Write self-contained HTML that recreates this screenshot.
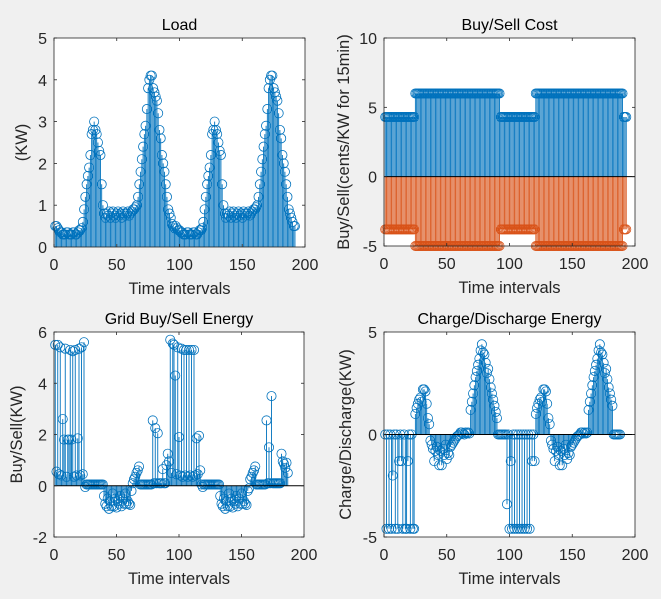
<!DOCTYPE html>
<html><head><meta charset="utf-8">
<style>
html,body{margin:0;padding:0;background:#f0f0f0;}
svg{display:block;font-family:"Liberation Sans",Arial,sans-serif;}
</style></head>
<body>
<svg id="fig" width="661" height="599" viewBox="0 0 661 599"></svg>
<script>
const loadDay = [0.5,0.5,0.45,0.4,0.35,0.35,0.3,0.3,0.3,0.35,0.35,0.3,0.3,0.3,0.35,0.35,0.3,0.3,0.35,0.4,0.4,0.45,0.6,0.9,1.2,1.5,1.7,1.9,2.2,2.7,2.8,3.0,2.8,2.7,2.5,2.3,2.2,1.5,1.0,0.8,0.7,0.8,0.75,0.85,0.7,0.8,0.85,0.75,0.7,0.8,0.85,0.75,0.8,0.7,0.85,0.8,0.75,0.8,0.85,0.75,0.8,0.85,0.9,0.9,0.95,1.0,1.2,1.5,1.8,2.1,2.4,2.7,2.9,3.3,3.8,4.0,4.1,4.1,3.8,3.7,3.6,3.5,3.2,2.8,2.6,2.2,2.0,1.8,1.5,1.2,0.9,0.8,0.7,0.55,0.5,0.45];
const loadVals = loadDay.concat([0.5,0.45,0.4,0.4,0.35,0.35,0.3,0.3,0.3,0.35,0.35,0.3,0.3,0.3,0.35,0.35,0.3,0.3,0.35,0.4,0.4,0.45,0.6,0.9,1.2,1.5,1.7,1.9,2.2,2.7,2.8,3.0,2.8,2.7,2.5,2.3,2.2,1.5,1.0,0.8,0.7,0.8,0.75,0.85,0.7,0.8,0.85,0.75,0.7,0.8,0.85,0.75,0.8,0.7,0.85,0.8,0.75,0.8,0.85,0.75,0.8,0.85,0.9,0.9,0.95,1.0,1.2,1.5,1.8,2.1,2.4,2.7,2.9,3.3,3.8,4.0,4.1,4.1,3.8,3.7,3.6,3.5,3.2,2.8,2.6,2.2,2.0,1.8,1.5,1.2,0.9,0.8,0.7,0.6,0.5,0.5]);
const buyVals = [4.3,4.3,4.3,4.3,4.3,4.3,4.3,4.3,4.3,4.3,4.3,4.3,4.3,4.3,4.3,4.3,4.3,4.3,4.3,4.3,4.3,4.3,4.3,4.3,6,6,6,6,6,6,6,6,6,6,6,6,6,6,6,6,6,6,6,6,6,6,6,6,6,6,6,6,6,6,6,6,6,6,6,6,6,6,6,6,6,6,6,6,6,6,6,6,6,6,6,6,6,6,6,6,6,6,6,6,6,6,6,6,6,6,6,6,4.3,4.3,4.3,4.3,4.3,4.3,4.3,4.3,4.3,4.3,4.3,4.3,4.3,4.3,4.3,4.3,4.3,4.3,4.3,4.3,4.3,4.3,4.3,4.3,4.3,4.3,4.3,4.3,6,6,6,6,6,6,6,6,6,6,6,6,6,6,6,6,6,6,6,6,6,6,6,6,6,6,6,6,6,6,6,6,6,6,6,6,6,6,6,6,6,6,6,6,6,6,6,6,6,6,6,6,6,6,6,6,6,6,6,6,6,6,6,6,6,6,6,6,6,6,4.3,4.3,4.3];
const sellVals = buyVals.map(v => v === 6 ? -5 : -3.8);
const gridVals = [5.5,0.55,5.5,0.45,5.4,0.4,2.6,1.8,5.35,0.35,1.8,1.8,5.3,1.8,5.25,0.35,5.3,0.4,1.85,5.35,0.4,5.4,0.45,5.6,-0.05,0.05,0.05,0.05,0.05,0.05,0.05,0.05,0.05,0.05,0.05,0.05,0.05,0.05,0.05,-0.4,-0.7,-0.8,-0.5,-0.9,-0.6,-0.8,-0.3,-0.8,-0.5,-0.85,-0.6,-0.7,-0.4,-0.8,-0.5,-0.7,-0.3,-0.7,-0.6,-0.7,-0.75,-0.2,0.1,0.25,0.35,0.5,0.6,0.75,0.05,0.05,0.05,0.05,0.05,0.05,0.05,0.05,0.05,0.05,2.55,0.1,2.25,0.1,2.05,0.1,0.1,0.1,0.65,0.1,0.1,0.8,1.25,0.95,5.7,0.5,5.55,5.5,4.3,0.45,5.4,1.9,0.4,5.35,0.35,5.3,0.4,5.3,0.35,5.3,0.4,5.3,0.35,5.3,0.4,1.85,0.45,1.95,0.6,0.05,-0.05,0.05,0.05,0.05,0.05,0.05,0.05,0.05,0.05,0.05,0.05,0.05,0.05,0.05,-0.4,-0.7,-0.8,-0.5,-0.9,-0.6,-0.8,-0.3,-0.8,-0.5,-0.85,-0.6,-0.7,-0.4,-0.8,-0.5,-0.7,-0.3,-0.7,-0.6,-0.7,-0.75,-0.2,-0.1,0.25,0.35,0.5,0.6,0.75,0.05,0.05,0.05,0.05,0.05,0.05,0.05,0.05,2.55,0.1,1.5,0.1,3.5,0.1,0.1,0.1,0.1,0.1,0.1,0.1,1.25,0.95,0.85,0.7,0.9,0.5];
const chgVals = [0,-4.6,0,-4.6,0,-4.6,-2.0,0,-4.6,0,-4.6,-1.3,0,-1.3,-4.6,0,-4.6,-4.6,-1.3,0,-4.6,0,-4.6,-4.6,1.0,1.3,1.5,1.7,1.8,1.6,2.2,2.2,2.1,1.5,0.8,0.5,-0.3,-0.5,-0.7,-1.3,-0.8,-0.6,-1.0,-1.5,-0.8,-1.5,-0.7,-1.0,-0.5,-1.2,-0.9,-1.0,-0.6,-0.5,-0.4,-0.3,-0.2,-0.1,-0.05,0,0.1,0.1,0.05,0,0.1,0.05,0.1,0.05,1.2,1.6,2.0,2.4,2.8,3.1,3.4,3.7,4.1,4.4,4.0,3.9,3.5,3.0,3.2,2.7,2.3,2.0,1.7,1.4,1.1,0.8,0,0,0,0,0,0,0,-3.4,0,-4.6,-1.3,-4.6,0,-4.6,0,-4.6,0,-4.6,0,-4.6,0,-4.6,0,-4.6,0,-4.6,0,-1.3,0,-1.3,1.0,1.3,1.5,1.7,1.8,1.6,2.2,2.2,2.1,1.5,0.8,0.5,-0.3,-0.5,-0.7,-1.3,-0.8,-0.6,-1.0,-1.5,-0.8,-1.5,-0.7,-1.0,-0.5,-1.2,-0.9,-1.0,-0.6,-0.5,-0.4,-0.3,-0.2,-0.1,-0.05,0,0.1,0.1,0.05,0.1,0.05,0.1,1.2,1.6,2.0,2.4,2.8,3.1,3.4,3.7,4.1,4.4,4.0,3.9,3.5,3.0,3.2,2.7,2.3,2.0,1.7,1.4,0,0,0,0,0,0];
const xTicks = [0,50,100,150,200];
const yTicks1 = [0,1,2,3,4,5];
const yTicks2 = [-5,0,5,10];
const yTicks3 = [-2,0,2,4,6];
const yTicks4 = [-5,0,5];

const NS = 'http://www.w3.org/2000/svg';
const fig = document.getElementById('fig');
function mk(tag, attrs, parent){const e=document.createElementNS(NS,tag);for(const k in attrs)e.setAttribute(k,attrs[k]);(parent||fig).appendChild(e);return e;}
const BLUE='#0072BD', ORANGE='#D95319', AX='#262626';

function panel(cfg){
  const g = mk('g',{});
  
  
  const {L,R,T,B,ymin,ymax} = cfg;
  const sx = v => L + (v-0)/(200-0)*(R-L);
  const sy = v => B - (v-ymin)/(ymax-ymin)*(B-T);
  const bg = mk('rect',{x:L,y:T,width:R-L,height:B-T,fill:'#fff'},g);
  
  
  cfg.series.forEach(s=>{
    const sg = mk('g',{},g);
    
    
    let d='';
    s.vals.forEach((v,i)=>{const x=sx(i+1);d+=`M${x.toFixed(2)} ${sy(0).toFixed(2)}V${sy(v).toFixed(2)}`;});
    mk('path',{d:d,stroke:s.color,'stroke-width':0.9,fill:'none'},sg);
    s.vals.forEach((v,i)=>{
      const c = mk('circle',{cx:sx(i+1),cy:sy(v),r:4.6,fill:'none',stroke:s.color,'stroke-width':0.8},sg);
      
      
    });
  });
  if (ymin<0){
    const bl = mk('line',{x1:L,x2:R,y1:sy(0),y2:sy(0),stroke:'#000','stroke-width':1},g);
    
    
  }
  mk('rect',{x:L,y:T,width:R-L,height:B-T,fill:'none',stroke:AX,'stroke-width':0.8},g);
  xTicks.forEach(t=>{
    const x=sx(t);
    mk('line',{x1:x,x2:x,y1:B,y2:B-3,stroke:AX,'stroke-width':0.8},g);
    mk('line',{x1:x,x2:x,y1:T,y2:T+3,stroke:AX,'stroke-width':0.8},g);
    const tx=mk('text',{x:x,y:B+23,'text-anchor':'middle','font-size':16,fill:AX},g);
    tx.textContent=t;
    
    
  });
  cfg.yTicks.forEach(t=>{
    const y=sy(t);
    mk('line',{x1:L,x2:L+3,y1:y,y2:y,stroke:AX,'stroke-width':0.8},g);
    mk('line',{x1:R,x2:R-3,y1:y,y2:y,stroke:AX,'stroke-width':0.8},g);
    const ty=mk('text',{x:L-7,y:y+6,'text-anchor':'end','font-size':16,fill:AX},g);
    ty.textContent=t;
    
    
  });
  const ti=mk('text',{x:(L+R)/2,y:T-8,'text-anchor':'middle','font-size':16,fill:'#000'},g);
  ti.textContent=cfg.title;
  
  
  const xl=mk('text',{x:(L+R)/2,y:B+47,'text-anchor':'middle','font-size':16.5,fill:AX},g);
  xl.textContent='Time intervals';
  
  
  const cy=(T+B)/2;
  const yl=mk('text',{x:cfg.ylx,y:cy,'text-anchor':'middle','font-size':16.5,fill:AX,transform:`rotate(-90 ${cfg.ylx} ${cy})`},g);
  yl.textContent=cfg.ylabel;
  
  
}

panel({name:'load-chart',L:54,R:305,T:38,B:247,ymin:0,ymax:5,yTicks:yTicks1,title:'Load',ylabel:'(KW)',ylx:27,
  series:[{name:'load-series',vals:loadVals,color:BLUE}]});
panel({name:'cost-chart',L:384,R:635,T:38,B:246,ymin:-5,ymax:10,yTicks:yTicks2,title:'Buy/Sell Cost',ylabel:'Buy/Sell(cents/KW for 15min)',ylx:349,
  series:[{name:'buy-cost-series',vals:buyVals,color:BLUE},{name:'sell-cost-series',vals:sellVals,color:ORANGE}]});
panel({name:'grid-energy-chart',L:54,R:304,T:332,B:537,ymin:-2,ymax:6,yTicks:yTicks3,title:'Grid Buy/Sell Energy',ylabel:'Buy/Sell(KW)',ylx:22,
  series:[{name:'grid-energy-series',vals:gridVals,color:BLUE}]});
panel({name:'charge-chart',L:384,R:635,T:332,B:537,ymin:-5,ymax:5,yTicks:yTicks4,title:'Charge/Discharge Energy',ylabel:'Charge/Discharge(KW)',ylx:351,
  series:[{name:'charge-series',vals:chgVals,color:BLUE}]});
</script>
</body></html>
